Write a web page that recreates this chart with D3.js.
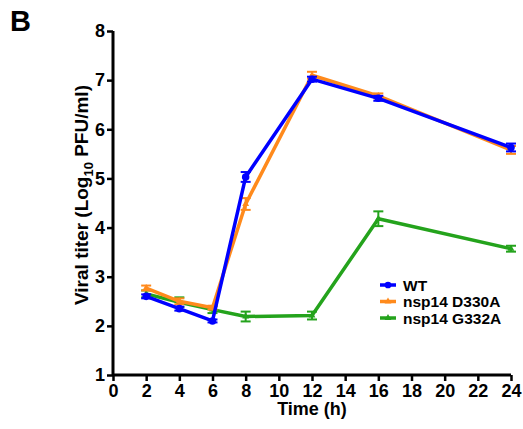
<!DOCTYPE html>
<html>
<head>
<meta charset="utf-8">
<script src="https://cdn.jsdelivr.net/npm/d3@7"></script>
<style>
  body { margin: 0; background: #fff; }
  text { font-family: "Liberation Sans", Arial, sans-serif; font-weight: bold; }
</style>
</head>
<body>
<div id="chart"></div>
<script>
// time points (h)
var hours = [2, 4, 6, 8, 12, 16, 24];

// mean titers, log10 PFU/ml
var wt = [2.6, 2.35, 2.1, 5.03, 7.02, 6.63, 5.63];
var d330a = [2.77, 2.5, 2.37, 4.48, 7.1, 6.68, 5.58];
var g332a = [2.65, 2.48, 2.33, 2.19, 2.21, 4.18, 3.57];

// error bar half-widths
var wtErr = [0.04, 0.04, 0.03, 0.1, 0.05, 0.05, 0.08];
var d330aErr = [0.05, 0.06, 0.04, 0.12, 0.07, 0.05, 0.08];
var g332aErr = [0.07, 0.1, 0.07, 0.1, 0.08, 0.15, 0.06];

var xTicks = d3.range(0, 25, 2);
var yTicks = [1, 2, 3, 4, 5, 6, 7, 8];

var seriesNames = ["WT", "nsp14 D330A", "nsp14 G332A"];
var colors = ["#0000ff", "#ff8a1c", "#24a31c"];

var svgWidth = 523, svgHeight = 429;
var margin = { top: 31, right: 12, bottom: 54, left: 113 };
var width = svgWidth - margin.left - margin.right;
var height = svgHeight - margin.top - margin.bottom;

var svg = d3.select("#chart").append("svg")
  .attr("width", svgWidth)
  .attr("height", svgHeight);

var g = svg.append("g")
  .attr("transform", `translate(${margin.left}, ${margin.top})`);

var x = d3.scaleLinear().domain([0, 24]).range([0, 398]);
var y = d3.scaleLinear().domain([1, 8]).range([height, 0]);

// axes
var xAxis = g.append("g")
  .attr("transform", `translate(0, ${height})`)
  .call(d3.axisBottom(x).tickValues(xTicks).tickFormat(d3.format("d")).tickSize(6).tickPadding(3));
var yAxis = g.append("g")
  .call(d3.axisLeft(y).tickValues(yTicks).tickFormat(d3.format("d")).tickSize(6).tickPadding(2));

[xAxis, yAxis].forEach(function(a) {
  a.select(".domain").attr("stroke-width", 3).attr("stroke", "#000");
  a.selectAll(".tick line").attr("stroke-width", 2.5).attr("stroke", "#000");
  a.selectAll("text").attr("font-size", 18).attr("fill", "#000")
    .style("font-family", "Liberation Sans, Arial, sans-serif").style("font-weight", "bold");
});
xAxis.select(".domain").attr("d", "M0,0H" + x(24));
yAxis.select(".domain").attr("d", "M0," + height + "V0");

var allSeries = [
  { name: seriesNames[0], vals: wt, err: wtErr, color: colors[0], sym: d3.symbolCircle },
  { name: seriesNames[1], vals: d330a, err: d330aErr, color: colors[1], sym: d3.symbolTriangle },
  { name: seriesNames[2], vals: g332a, err: g332aErr, color: colors[2], sym: d3.symbolTriangle }
];

var line = d3.line()
  .x(function(d) { return x(d.t); })
  .y(function(d) { return y(d.v); });

// draw green first, then orange, then blue on top
[2, 1, 0].forEach(function(i) {
  var s = allSeries[i];
  var pts = hours.map(function(t, j) { return { t: t, v: s.vals[j], e: s.err[j] }; });
  var sg = g.append("g");

  // error bars
  pts.forEach(function(p) {
    sg.append("line")
      .attr("x1", x(p.t)).attr("x2", x(p.t))
      .attr("y1", y(p.v - p.e)).attr("y2", y(p.v + p.e))
      .attr("stroke", s.color).attr("stroke-width", 2);
    [p.v - p.e, p.v + p.e].forEach(function(v) {
      sg.append("line")
        .attr("x1", x(p.t) - 5).attr("x2", x(p.t) + 5)
        .attr("y1", y(v)).attr("y2", y(v))
        .attr("stroke", s.color).attr("stroke-width", 2);
    });
  });

  sg.append("path")
    .datum(pts)
    .attr("d", line)
    .attr("fill", "none")
    .attr("stroke", s.color)
    .attr("stroke-width", 3.5)
    .attr("stroke-linejoin", "round");

  sg.selectAll(".pt")
    .data(pts)
    .enter().append("path")
    .attr("transform", function(d) { return `translate(${x(d.t)}, ${y(d.v)})`; })
    .attr("d", d3.symbol().type(s.sym).size(i == 0 ? 45 : 20))
    .attr("fill", s.color);
});

// legend
var legend = g.append("g").attr("transform", "translate(267, 254)");
allSeries.forEach(function(s, i) {
  var row = legend.append("g").attr("transform", `translate(0, ${i * 16.5})`);
  row.append("line")
    .attr("x1", 0).attr("x2", 16)
    .attr("stroke", s.color).attr("stroke-width", 3.5);
  row.append("path")
    .attr("transform", "translate(8, 0)")
    .attr("d", d3.symbol().type(s.sym).size(i == 0 ? 35 : 20))
    .attr("fill", s.color);
  row.append("text")
    .attr("x", 23).attr("y", 5.5)
    .attr("font-size", 15.5)
    .text(s.name);
});

// axis labels
svg.append("text")
  .attr("x", margin.left + x(12))
  .attr("y", 415)
  .attr("text-anchor", "middle")
  .attr("font-size", 18)
  .text("Time (h)");

var yl = svg.append("text")
  .attr("transform", "translate(88, 195) rotate(-90)")
  .attr("text-anchor", "middle")
  .attr("font-size", 19);
yl.append("tspan").text("Viral titer (Log");
yl.append("tspan").attr("font-size", 13).attr("dy", 5).text("10");
yl.append("tspan").attr("dy", -5).text(" PFU/ml)");

// panel letter
svg.append("text")
  .attr("x", 10).attr("y", 31)
  .attr("font-size", 29)
  .text("B");
</script>
</body>
</html>
